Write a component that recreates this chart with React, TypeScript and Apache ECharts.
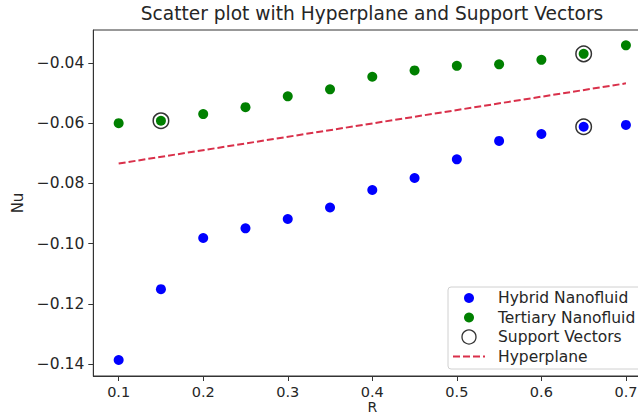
import React, { useEffect, useRef } from "react";
import * as echarts from "echarts";

const R = [0.1, 0.15, 0.2, 0.25, 0.3, 0.35, 0.4, 0.45, 0.5, 0.55, 0.6, 0.65, 0.7];
const hybridNu = [-0.1386, -0.1151, -0.0981, -0.0949, -0.0918, -0.088, -0.0822, -0.0782, -0.072, -0.0659, -0.0636, -0.0612, -0.0606];
const tertiaryNu = [-0.06, -0.0592, -0.057, -0.0547, -0.0511, -0.0488, -0.0446, -0.0425, -0.041, -0.0405, -0.039, -0.037, -0.0342];
const supportR = [0.15, 0.65, 0.65];
const supportNu = [-0.0592, -0.037, -0.0612];
const hyperR = [0.1, 0.7];
const hyperNu = [-0.0734, -0.0468];
const xTicks = [0.1, 0.2, 0.3, 0.4, 0.5, 0.6, 0.7];
const yTicks = [-0.14, -0.12, -0.1, -0.08, -0.06, -0.04];
const legendNames = ["Hybrid Nanofluid", "Tertiary Nanofluid", "Support Vectors", "Hyperplane"];

const FONT = "DejaVu Sans";
const TXT = "#262626";

export default function App() {
  const ref = useRef<HTMLDivElement>(null);
  useEffect(() => {
    if (!ref.current) return;
    const chart = echarts.init(ref.current, undefined, { renderer: "svg" });
    const zip = (a: number[], b: number[]) => a.map((v, i) => [v, b[i]]);
    const lx = 448, ly = 287, rowH = 19.5;
    const legendGraphic: any[] = [
      { type: "rect", shape: { x: lx, y: ly, width: 200, height: 82, r: 3 }, style: { fill: "rgba(255,255,255,0.85)", stroke: "#d0d0d0", lineWidth: 1 }, z: 100 },
      { type: "circle", shape: { cx: 469, cy: ly + 11, r: 5 }, style: { fill: "#0000ff" }, z: 101 },
      { type: "circle", shape: { cx: 469, cy: ly + 11 + rowH, r: 5 }, style: { fill: "#008000" }, z: 101 },
      { type: "circle", shape: { cx: 469, cy: ly + 11 + rowH * 2, r: 7 }, style: { fill: "none", stroke: "#333", lineWidth: 1.3 }, z: 101 },
      { type: "line", shape: { x1: 453, y1: ly + 11 + rowH * 3, x2: 485, y2: ly + 11 + rowH * 3 }, style: { stroke: "#d9304a", lineWidth: 2, lineDash: [7, 3] }, z: 101 },
    ];
    legendNames.forEach((n, i) => {
      legendGraphic.push({
        type: "text", x: 498, y: ly + 11 + rowH * i, z: 101,
        style: { text: n, fill: TXT, font: `15.5px "${FONT}"`, textVerticalAlign: "middle", textAlign: "left" },
      });
    });
    chart.setOption({
      animation: false,
      backgroundColor: "#ffffff",
      title: {
        text: "Scatter plot with Hyperplane and Support Vectors",
        left: 372, top: 4, textAlign: "center", padding: 0,
        textStyle: { fontFamily: FONT, fontSize: 18.6, fontWeight: "normal", color: TXT },
      },
      grid: { left: 93.3, top: 30, width: 558, height: 346, show: true, borderColor: "#333", borderWidth: 1, backgroundColor: "transparent", containLabel: false, outerBoundsMode: "none" },
      xAxis: {
        type: "value", min: 0.07, max: 0.73,
        name: "R", nameLocation: "middle", nameGap: 24.5, nameMoveOverlap: false,
        nameTextStyle: { fontFamily: FONT, fontSize: 14, color: TXT, lineHeight: 12 },
        axisLine: { show: true, lineStyle: { color: "#333", width: 1 } },
        axisTick: { show: true, length: 5, lineStyle: { color: "#333" }, customValues: xTicks },
        axisLabel: { fontFamily: FONT, fontSize: 14.5, color: TXT, margin: 9, lineHeight: 14, customValues: xTicks, formatter: (v: number) => v.toFixed(1) },
        splitLine: { show: false },
      },
      yAxis: {
        type: "value", min: -0.1439, max: -0.0291,
        name: "Nu", nameLocation: "middle", nameGap: 66,
        nameTextStyle: { fontFamily: FONT, fontSize: 15, color: TXT },
        axisLine: { show: true, lineStyle: { color: "#333", width: 1 } },
        axisTick: { show: true, length: 5, lineStyle: { color: "#333" }, customValues: yTicks },
        axisLabel: { fontFamily: FONT, fontSize: 15.5, color: TXT, margin: 9, customValues: yTicks, formatter: (v: number) => (v < 0 ? "\u2212" : "") + Math.abs(v).toFixed(2) },
        splitLine: { show: false },
      },
      series: [
        { name: "Hybrid Nanofluid", type: "scatter", data: zip(R, hybridNu), symbolSize: 10, itemStyle: { color: "#0000ff", opacity: 1 }, z: 2 },
        { name: "Tertiary Nanofluid", type: "scatter", data: zip(R, tertiaryNu), symbolSize: 10, itemStyle: { color: "#008000", opacity: 1 }, z: 2 },
        { name: "Support Vectors", type: "scatter", data: zip(supportR, supportNu), symbolSize: 15.5, itemStyle: { color: "rgba(0,0,0,0)", borderColor: "#333", borderWidth: 1.5, opacity: 1 }, z: 3 },
        { name: "Hyperplane", type: "line", data: zip(hyperR, hyperNu), showSymbol: false, symbol: "none", lineStyle: { color: "#d9304a", width: 2, type: [7, 3] }, z: 4 },
      ],
      graphic: legendGraphic,
    });
    return () => chart.dispose();
  }, []);
  return <div ref={ref} style={{ position: "fixed", left: 0, top: 0, width: 638, height: 413 }} />;
}
